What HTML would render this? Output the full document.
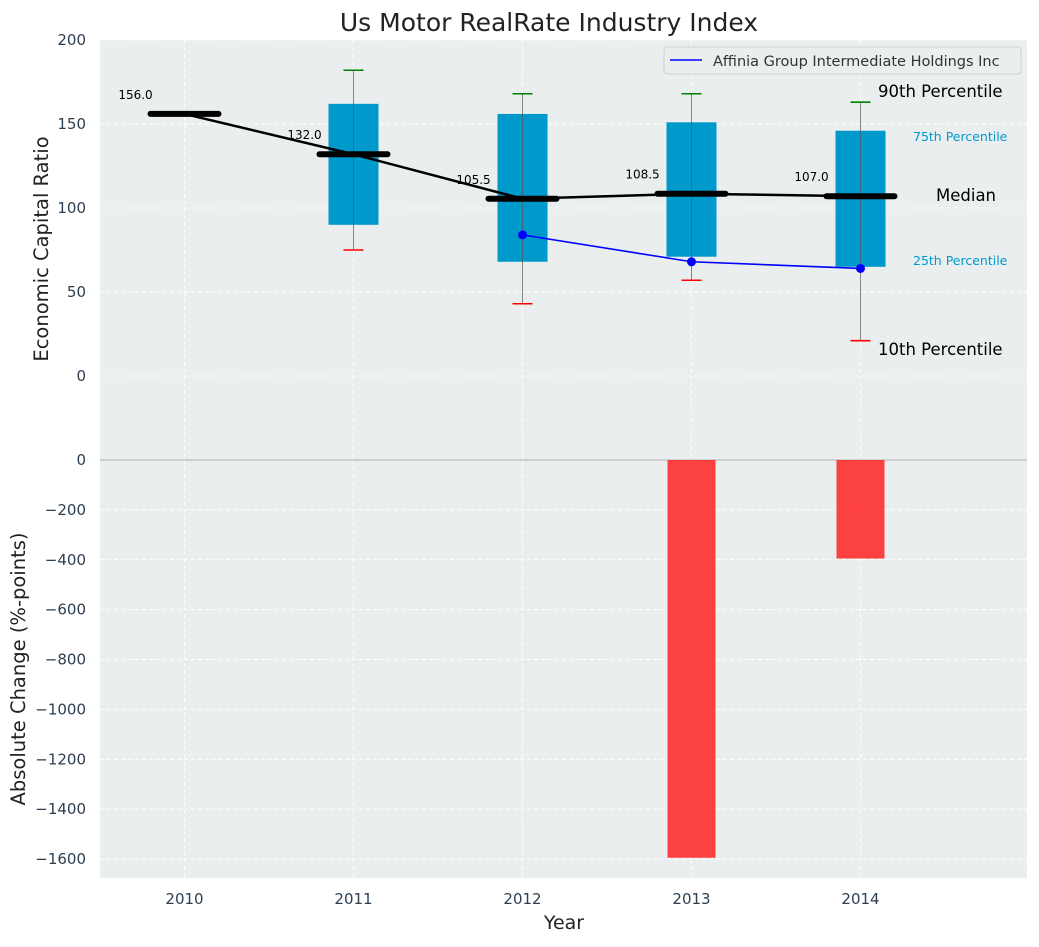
<!DOCTYPE html>
<html><head><meta charset="utf-8"><style>
body{margin:0;background:#fff;font-family:"Liberation Sans","DejaVu Sans",sans-serif}
svg text{font-family:"DejaVu Sans","Liberation Sans",sans-serif}
</style></head><body>
<svg id="c" width="1039" height="942" xmlns="http://www.w3.org/2000/svg"></svg>
<script>
const years=[2010,2011,2012,2013,2014];
const medians=[156,132,105.5,108.5,107];
const p25=[null,90,68,71,65];
const p75=[null,162,156,151,146];
const p10=[null,75,43,57,21];
const p90=[null,182,168,168,163];
const companyYears=[2012,2013,2014];
const companyVals=[84,68,64];
const changeYears=[2013,2014];
const changeVals=[-1595,-395];
const topTicks=[0,50,100,150,200];
const botTicks=[0,-200,-400,-600,-800,-1000,-1200,-1400,-1600];

const NS="http://www.w3.org/2000/svg";
const svg=document.getElementById('c');
const L=100,R=1027;
const x=v=>L+(v-2009.5)*169;
const yT=v=>376-(v)*1.68;
const yB=v=>460-v*(399/1600);
function el(t,a,p){const e=document.createElementNS(NS,t);for(const k in a)e.setAttribute(k,a[k]);(p||svg).appendChild(e);return e;}
function txt(s,a){const e=el('text',a);e.textContent=s;return e;}

let e;
e=el('rect',{x:L,y:40,width:R-L,height:420,fill:'#eaeeef'});

e=el('rect',{x:L,y:460,width:R-L,height:418,fill:'#eaeeef'});


years.forEach(yr=>{
 el('line',{x1:x(yr),x2:x(yr),y1:40,y2:878,stroke:'#fff','stroke-dasharray':'4,3','stroke-width':1});
});
topTicks.forEach(t=>{
 el('line',{x1:L,x2:R,y1:yT(t),y2:yT(t),stroke:'#fff','stroke-dasharray':'4,3'});
 e=txt(t,{x:86,y:yT(t)+5,'text-anchor':'end','font-size':15,fill:'#2c3e50'});
 
});
botTicks.forEach(t=>{
 if(t!==0)el('line',{x1:L,x2:R,y1:yB(t),y2:yB(t),stroke:'#fff','stroke-dasharray':'4,3'});
 e=txt(t===0?'0':'−'+(-t),{x:86,y:yB(t)+5,'text-anchor':'end','font-size':15,fill:'#2c3e50'});
 
});
el('line',{x1:L,x2:R,y1:460,y2:460,stroke:'#b0b0b0','stroke-width':1});

years.forEach((yr,i)=>{
 if(p25[i]==null)return;
 const cx=x(yr),w=50;
 e=el('rect',{x:cx-w/2,y:yT(p75[i]),width:w,height:yT(p25[i])-yT(p75[i]),fill:'#0099cc'});
 
 el('line',{x1:cx,x2:cx,y1:yT(p90[i]),y2:yT(p10[i]),stroke:'#555','stroke-width':1,opacity:0.7});
 el('line',{x1:cx-10,x2:cx+10,y1:yT(p90[i]),y2:yT(p90[i]),stroke:'green','stroke-width':1.6});
 el('line',{x1:cx-10,x2:cx+10,y1:yT(p10[i]),y2:yT(p10[i]),stroke:'red','stroke-width':1.6});
});
e=el('polyline',{points:years.map((yr,i)=>x(yr)+','+yT(medians[i])).join(' '),fill:'none',stroke:'#000','stroke-width':2.5});

years.forEach((yr,i)=>{
 e=el('line',{x1:x(yr)-34,x2:x(yr)+34,y1:yT(medians[i]),y2:yT(medians[i]),stroke:'#000','stroke-width':6,'stroke-linecap':'round'});
 
 e=txt(medians[i].toFixed(1),{x:x(yr)-49,y:yT(medians[i])-15,'text-anchor':'middle','font-size':12,fill:'#000'});
 
});
e=el('polyline',{points:companyYears.map((yr,i)=>x(yr)+','+yT(companyVals[i])).join(' '),fill:'none',stroke:'blue','stroke-width':1.6});

companyYears.forEach((yr,i)=>{
 e=el('circle',{cx:x(yr),cy:yT(companyVals[i]),r:4.5,fill:'blue'});
 
});
changeYears.forEach((yr,i)=>{
 e=el('rect',{x:x(yr)-24,y:yB(0),width:48,height:yB(changeVals[i])-yB(0),fill:'#ff2222',opacity:0.85});
 
});
const ann=[['90th Percentile',878,97,16.5,'#000'],['75th Percentile',913,141,12.5,'#0099cc'],['Median',936,201,16.5,'#000'],['25th Percentile',913,265,12.5,'#0099cc'],['10th Percentile',878,355,16.5,'#000']];
ann.forEach(a=>{e=txt(a[0],{x:a[1],y:a[2],'font-size':a[3],fill:a[4]});});
years.forEach(yr=>{e=txt(yr,{x:x(yr),y:904,'text-anchor':'middle','font-size':15,fill:'#2c3e50'});});
e=el('rect',{x:664,y:47,width:357,height:27,rx:3,fill:'#eaeeef',stroke:'#d0d0d0'});

el('line',{x1:670,x2:702,y1:60,y2:60,stroke:'blue','stroke-width':1.6});
e=txt('Affinia Group Intermediate Holdings Inc',{x:713,y:66,'font-size':14.5,fill:'#333'});

e=txt('Us Motor RealRate Industry Index',{x:549,y:31,'text-anchor':'middle','font-size':25,fill:'#222'});

e=txt('Year',{x:564,y:929,'text-anchor':'middle','font-size':19,fill:'#222'});

e=txt('Economic Capital Ratio',{x:0,y:0,'text-anchor':'middle','font-size':19.5,fill:'#222',transform:'translate(48,249) rotate(-90)'});

e=txt('Absolute Change (%-points)',{x:0,y:0,'text-anchor':'middle','font-size':19.5,fill:'#222',transform:'translate(25,669) rotate(-90)'});

</script>
</body></html>
